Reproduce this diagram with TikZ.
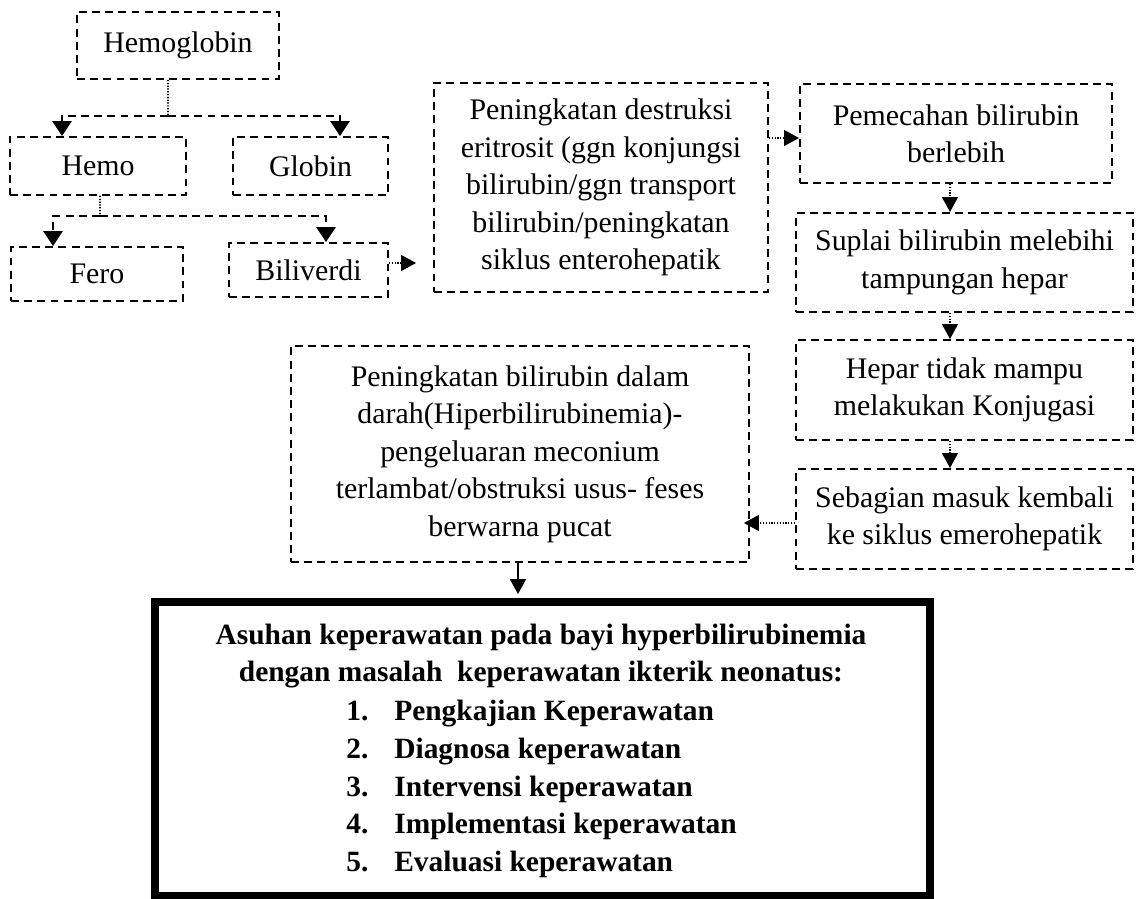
\documentclass[tikz,border=0pt]{standalone}
\usepackage{fontspec}
\setmainfont{Liberation Serif}
\usetikzlibrary{arrows.meta}
\begin{document}
\begin{tikzpicture}[x=0.02cm,y=-0.02cm,
  txt/.style={font=\fontsize{17}{21.3}\selectfont},
  bold/.style={font=\fontsize{16.75}{21.5}\selectfont\bfseries},
  box/.style={txt, draw, dash pattern=on 4.5pt off 3pt, line width=1.1pt, inner sep=0pt, align=center},
  dot/.style={line width=0.9pt, dash pattern=on 0.7pt off 0.9pt},
  dsh/.style={line width=1.1pt, dash pattern=on 4.5pt off 3pt},
  tip/.style={-{Triangle[length=8.5pt,width=9pt]}},
  bigtip/.style={-{Triangle[length=8.5pt,width=11pt]}},
]
\useasboundingbox (0,0) rectangle (1137,899);

\node[box, minimum width=4.04cm, minimum height=1.34cm] (hb) at (178,45.5) {Hemoglobin};
\node[box, minimum width=3.52cm, minimum height=1.16cm] (hemo) at (98,166) {Hemo};
\node[box, minimum width=3.10cm, minimum height=1.16cm] (glob) at (310.5,166) {Globin};
\node[box, minimum width=3.44cm, minimum height=1.08cm] (fero) at (97,274) {Fero};
\node[box, minimum width=3.18cm, minimum height=1.08cm] (bili) at (308.5,270) {Biliverdi};
\node[box, minimum width=6.68cm, minimum height=4.18cm] (mid) at (601,187.5) {Peningkatan destruksi\\ eritrosit (ggn konjungsi\\ bilirubin/ggn transport\\ bilirubin/peningkatan\\ siklus enterohepatik};
\node[box, minimum width=6.24cm, minimum height=1.98cm] (pem) at (956,133.5) {Pemecahan bilirubin\\ berlebih};
\node[box, minimum width=6.74cm, minimum height=1.98cm] (sup) at (964.5,262.5) {Suplai bilirubin melebihi\\ tampungan hepar};
\node[box, minimum width=6.74cm, minimum height=2.00cm] (hep) at (964.5,390) {Hepar tidak mampu\\ melakukan Konjugasi};
\node[box, minimum width=6.74cm, minimum height=2.00cm] (seb) at (964.5,519) {Sebagian masuk kembali\\ ke siklus emerohepatik};
\node[box, minimum width=9.16cm, minimum height=4.32cm] (big) at (520,454) {Peningkatan bilirubin dalam\\ darah(Hiperbilirubinemia)-\\ pengeluaran meconium\\ terlambat/obstruksi usus- feses\\ berwarna pucat};

\node[draw, line width=4.5pt, inner sep=0pt, minimum width=15.51cm, minimum height=5.87cm] (care) at (542.25,748.75) {};
\node[bold, align=center, inner sep=0pt] (ttl) at (541,656) {Asuhan keperawatan pada bayi hyperbilirubinemia\\ dengan masalah\ \ keperawatan ikterik neonatus:};
\node[bold, align=left, anchor=west, inner sep=0pt] (lst) at (346,789) {\makebox[0.96cm][l]{1.}Pengkajian Keperawatan\\ \makebox[0.96cm][l]{2.}Diagnosa keperawatan\\ \makebox[0.96cm][l]{3.}Intervensi keperawatan\\ \makebox[0.96cm][l]{4.}Implementasi keperawatan\\ \makebox[0.96cm][l]{5.}Evaluasi keperawatan};

% tree
\draw[dot] ([xshift=-0.2cm]hb.south) -- (168,116) coordinate (j1);
\draw[dsh,bigtip] (j1) -| ([xshift=-0.72cm]hemo.north);
\draw[dsh,bigtip] (j1) -| ([xshift=0.59cm]glob.north);
\draw[dot] ([xshift=0.04cm]hemo.south) -- (100,216) coordinate (j2);
\draw[dsh,bigtip] (j2) -| ([xshift=-0.88cm]fero.north);
\draw[dsh,bigtip] (j2) -| ([xshift=0.35cm]bili.north);

% chain
\coordinate (b1) at ([yshift=0.14cm]bili.east);
\draw[dot,tip,shorten >=0.34cm] (b1) -- (b1 -| mid.west);
\coordinate (m1) at ([yshift=-0.09cm]pem.west);
\draw[dot,tip] (m1 -| mid.east) -- (m1);
\coordinate (p1) at (950,0);
\draw[dot,tip] (p1 |- pem.south) -- (p1 |- sup.north);
\draw[dot,tip] (p1 |- sup.south) -- (p1 |- hep.north);
\draw[dot,tip] (p1 |- hep.south) -- (p1 |- seb.north);
\coordinate (s1) at ([yshift=-0.08cm]seb.west);
\draw[dot,tip,shorten >=-0.12cm] (s1) -- (s1 -| big.east);
\coordinate (g1) at ([xshift=-0.04cm]big.south);
\draw[line width=1pt,-{Triangle[length=8.5pt,width=9pt]},shorten >=0.08cm] (g1) -- (g1 |- care.north);
\end{tikzpicture}
\end{document}
